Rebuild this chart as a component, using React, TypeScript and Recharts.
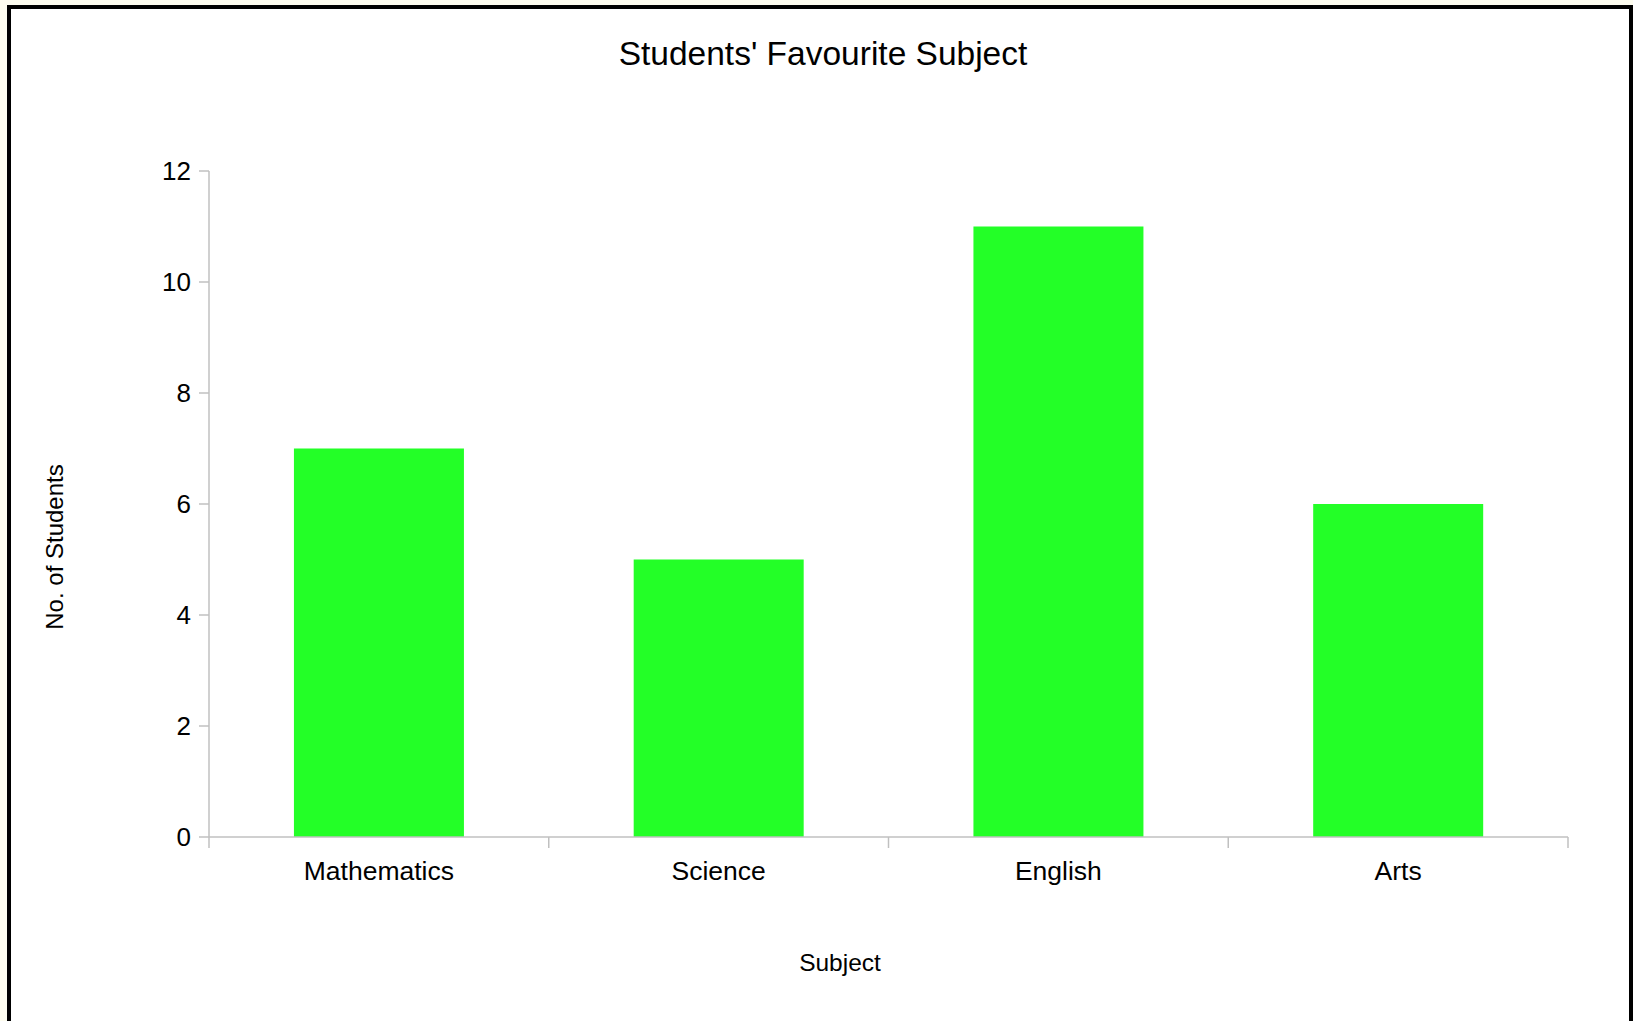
import React from 'react';
import { BarChart, Bar, XAxis, YAxis } from 'recharts';

const subjects = ['Mathematics', 'Science', 'English', 'Arts'];
const studentCounts = [7, 5, 11, 6];
const yTicks = [0, 2, 4, 6, 8, 10, 12];

const data = subjects.map((subject, i) => ({ subject, students: studentCounts[i] }));

const FONT = '"Liberation Sans", Arial, sans-serif';
const AXIS_GREY = '#c0c0c0';

// tick marks sit on the category boundaries, labels in the middle
const SubjectTick = (props: any) => {
  const { x, y, payload, index, visibleTicksCount, width } = props;
  const half = payload.offset != null ? payload.offset : width / visibleTicksCount / 2;
  return (
    <g>
      <line x1={x - half} y1={y} x2={x - half} y2={y + 11} stroke={AXIS_GREY} strokeWidth={1.5} />
      {index === visibleTicksCount - 1 && (
        <line x1={x + half} y1={y} x2={x + half} y2={y + 11} stroke={AXIS_GREY} strokeWidth={1.5} />
      )}
      <text x={x} y={y + 43} textAnchor="middle" fontSize={26.5} fill="#000" fontFamily={FONT}>
        {payload.value}
      </text>
    </g>
  );
};

export default function App() {
  return (
    <div style={{ position: 'fixed', inset: 0, background: '#fdfcef', overflow: 'hidden', fontFamily: FONT }}>
      <div
        style={{
          position: 'absolute', left: 7, top: 5, width: 1626, height: 1100,
          boxSizing: 'border-box', border: '4px solid #000', background: '#fff',
        }}
      />
      <div style={{ position: 'absolute', left: 0, top: 0 }}>
        <BarChart
          width={1633}
          height={1021}
          data={data}
          margin={{ top: 171, right: 65, left: 0, bottom: 0 }}
          barCategoryGap="25%"
        >
          <XAxis
            dataKey="subject"
            height={184}
            stroke={AXIS_GREY}
            strokeWidth={1.5}
            tickLine={false}
            tickSize={0}
            tickMargin={0}
            interval={0}
            tick={<SubjectTick />}
          />
          <YAxis
            width={209}
            domain={[0, 12]}
            ticks={yTicks}
            stroke={AXIS_GREY}
            strokeWidth={1.5}
            tickSize={10}
            tickMargin={8}
            tick={{ fill: '#000', fontSize: 26, fontFamily: FONT }}
          />
          <Bar dataKey="students" fill="#23ff27" isAnimationActive={false} />
        </BarChart>
      </div>
      <svg
        width={1633}
        height={1021}
        style={{ position: 'absolute', left: 0, top: 0, pointerEvents: 'none' }}
        fontFamily={FONT}
      >
        <text x={823} y={65} textAnchor="middle" fontSize={33.5} fill="#000">
          Students' Favourite Subject
        </text>
        <text x={63} y={547} textAnchor="middle" fontSize={24} fill="#000" transform="rotate(-90, 63, 547)">
          No. of Students
        </text>
        <text x={840} y={971} textAnchor="middle" fontSize={24.5} fill="#000">
          Subject
        </text>
      </svg>
    </div>
  );
}
